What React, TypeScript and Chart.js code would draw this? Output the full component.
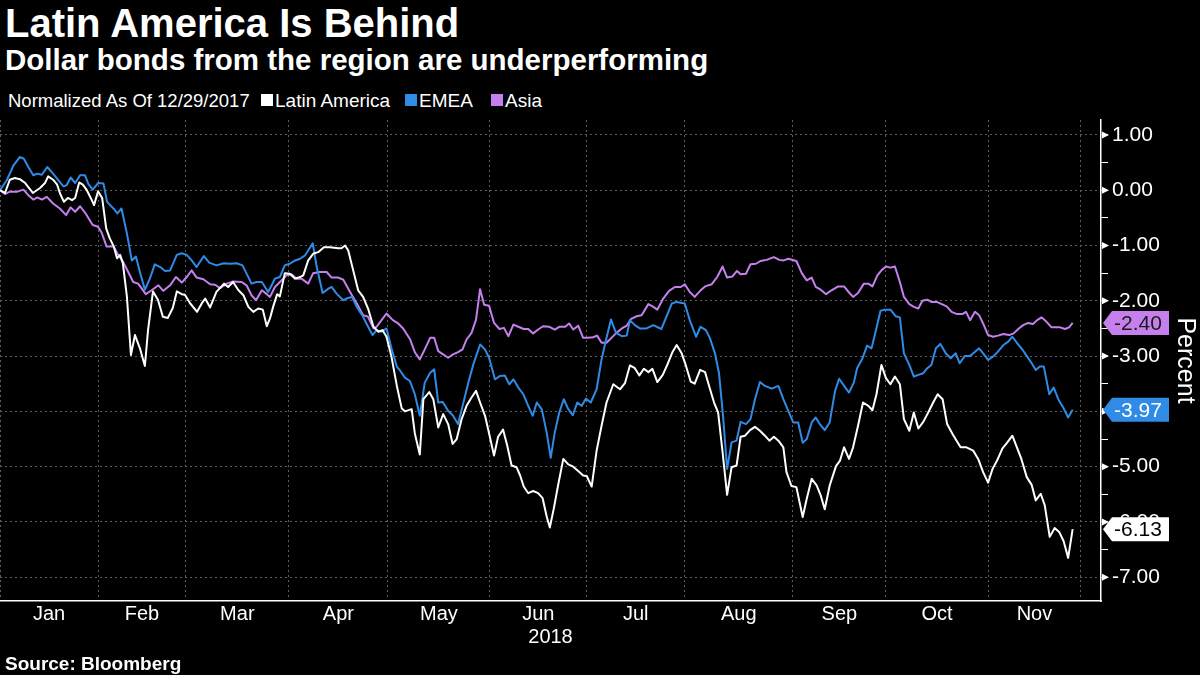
import React, { useEffect, useRef } from "react";
import { Chart, registerables } from "chart.js";

Chart.register(...registerables);

const FONT = '"Liberation Sans", Arial, sans-serif';

// x positions are business-day positions since 12/29/2017
const monthLabels = ["Jan", "Feb", "Mar", "Apr", "May", "Jun", "Jul", "Aug", "Sep", "Oct", "Nov"];
const monthStarts = [0, 21.8, 41.3, 64.2, 86.2, 108.9, 130.4, 152.2, 176.2, 196.9, 219.6, 240.2];
const yearLabel = "2018";
const yMajorTicks = [1, 0, -1, -2, -3, -4, -5, -6, -7];
const seriesNames = ["Latin America", "EMEA", "Asia"];
const seriesColors = ["#ffffff", "#2f8be6", "#c680ee"];
const tagTextColors = ["#000000", "#ffffff", "#1a1a1a"];

const latam: [number, number][] = [
  [0, 0.0], [1.1, -0.05], [2.2, 0.19], [3.3, 0.22], [4.4, 0.2], [5.6, 0.13], [7.3, -0.05], [8.9, 0.04], [10.0, 0.13], [10.7, 0.25],
  [11.8, 0.19], [12.7, 0.1], [13.3, -0.05], [14.2, -0.21], [15.1, -0.14], [16.0, -0.18], [16.7, -0.14], [17.6, 0.14], [18.4, 0.1], [19.3, 0.0],
  [20.4, -0.18], [20.9, -0.27], [21.8, -0.02], [22.7, -0.14], [23.6, -0.69], [24.4, -0.87], [25.3, -1.02], [26.0, -1.23], [26.7, -1.17], [27.3, -1.32],
  [28.2, -1.92], [29.1, -2.98], [30.0, -2.62], [31.1, -2.86], [32.2, -3.18], [32.9, -2.53], [34.0, -1.83], [35.1, -1.98], [36.2, -2.29], [37.3, -2.31],
  [38.4, -2.13], [39.3, -1.83], [40.4, -1.88], [41.1, -1.89], [42.2, -2.04], [43.8, -2.2], [44.9, -2.04], [45.6, -1.96], [46.7, -2.12], [48.1, -1.84],
  [49.8, -1.69], [50.7, -1.75], [51.8, -1.66], [53.0, -1.81], [54.1, -1.9], [55.2, -2.11], [56.3, -2.2], [57.4, -2.14], [58.4, -2.16], [59.3, -2.46],
  [60.0, -2.32], [60.7, -2.11], [61.6, -1.88], [62.2, -1.92], [63.3, -1.5], [64.4, -1.51], [65.6, -1.6], [66.7, -1.57], [67.4, -1.54], [68.5, -1.27],
  [69.6, -1.15], [70.7, -1.12], [72.0, -1.03], [73.3, -1.03], [75.2, -1.05], [75.9, -1.05], [76.7, -1.0], [77.4, -1.09], [78.5, -1.45], [79.6, -1.81],
  [80.7, -1.93], [81.8, -2.14], [83.0, -2.47], [84.1, -2.56], [85.0, -2.53], [85.9, -2.65], [87.0, -3.01], [88.2, -3.54], [89.3, -3.95], [90.0, -4.0],
  [91.5, -3.96], [92.2, -4.4], [93.3, -4.78], [94.1, -3.78], [95.4, -3.65], [96.3, -3.78], [97.4, -4.29], [98.5, -4.05], [99.6, -4.23], [100.6, -4.59],
  [101.5, -4.5], [102.6, -4.14], [103.7, -3.9], [104.8, -3.75], [105.8, -3.63], [106.7, -3.84], [107.8, -4.08], [108.7, -4.4], [109.8, -4.8], [110.7, -4.46],
  [111.8, -4.33], [112.7, -4.61], [113.7, -4.98], [114.8, -5.01], [115.6, -5.16], [116.4, -5.36], [117.4, -5.48], [118.5, -5.44], [119.6, -5.48], [120.6, -5.57],
  [121.5, -5.9], [122.2, -6.1], [123.1, -5.75], [124.1, -5.31], [125.2, -4.86], [126.3, -4.96], [127.4, -5.0], [128.5, -5.08], [129.6, -5.16], [130.4, -5.17],
  [131.5, -5.36], [132.6, -4.71], [133.7, -4.26], [134.8, -3.84], [136.3, -3.51], [137.8, -3.6], [138.9, -3.49], [140.0, -3.17], [141.1, -3.22], [142.1, -3.35],
  [143.1, -3.23], [144.1, -3.29], [145.0, -3.23], [146.1, -3.47], [147.3, -3.34], [148.3, -3.16], [149.5, -2.92], [150.4, -2.8], [151.5, -2.95], [152.4, -3.16],
  [153.5, -3.46], [154.4, -3.5], [155.6, -3.25], [156.7, -3.29], [157.6, -3.54], [158.7, -3.84], [159.6, -4.02], [160.6, -4.74], [161.6, -5.51], [162.6, -5.01],
  [163.7, -4.98], [164.6, -4.46], [165.6, -4.44], [166.7, -4.34], [167.8, -4.28], [168.9, -4.35], [170.0, -4.44], [171.0, -4.53], [172.0, -4.46], [173.0, -4.53],
  [174.1, -4.65], [174.8, -5.1], [175.9, -5.35], [177.0, -5.37], [178.4, -5.91], [179.3, -5.58], [180.4, -5.22], [181.5, -5.34], [182.4, -5.52], [183.3, -5.77],
  [184.4, -5.34], [185.8, -4.99], [186.7, -4.89], [187.6, -4.65], [188.7, -4.86], [189.6, -4.65], [190.7, -4.26], [191.8, -3.84], [193.0, -3.9], [193.9, -3.98],
  [194.8, -3.69], [195.9, -3.16], [196.9, -3.4], [197.9, -3.51], [198.9, -3.37], [200.0, -3.51], [200.9, -4.14], [202.1, -4.35], [203.1, -4.02], [204.1, -4.31],
  [205.2, -4.19], [206.3, -4.02], [207.4, -3.84], [208.4, -3.69], [209.5, -3.78], [210.5, -4.23], [211.7, -4.41], [212.6, -4.53], [213.5, -4.65], [214.8, -4.65],
  [216.3, -4.71], [217.4, -4.86], [218.5, -5.1], [219.6, -5.29], [220.6, -5.04], [221.6, -4.89], [222.8, -4.67], [223.8, -4.57], [225.0, -4.44], [225.9, -4.63],
  [227.0, -4.86], [228.2, -5.19], [229.3, -5.33], [230.2, -5.61], [231.3, -5.49], [232.2, -5.7], [233.3, -6.27], [234.4, -6.11], [235.4, -6.18], [236.4, -6.35],
  [237.4, -6.65], [238.4, -6.13],
];

const emea: [number, number][] = [
  [0, 0.0], [1.5, 0.18], [3.0, 0.45], [4.4, 0.6], [5.3, 0.57], [6.3, 0.42], [7.4, 0.27], [8.3, 0.3], [9.3, 0.28], [10.5, 0.42],
  [11.8, 0.3], [13.0, 0.18], [14.1, 0.07], [14.8, 0.09], [15.7, 0.23], [16.7, 0.13], [17.8, 0.27], [18.9, 0.27], [19.6, 0.12], [20.6, 0.01],
  [21.8, 0.13], [23.0, 0.12], [23.8, -0.21], [25.2, -0.33], [26.1, -0.42], [27.0, -0.33], [28.2, -0.78], [29.3, -1.27], [30.2, -1.2], [31.1, -1.48],
  [32.2, -1.8], [33.3, -1.6], [34.4, -1.34], [35.6, -1.39], [36.7, -1.46], [37.8, -1.45], [39.3, -1.17], [40.4, -1.14], [41.5, -1.17], [42.6, -1.27],
  [43.7, -1.39], [45.3, -1.19], [46.5, -1.31], [48.1, -1.36], [49.8, -1.32], [51.1, -1.33], [52.6, -1.32], [53.9, -1.36], [55.9, -1.69], [57.0, -1.66],
  [58.2, -1.66], [59.6, -1.84], [61.1, -1.6], [62.2, -1.57], [63.3, -1.36], [64.4, -1.33], [65.6, -1.27], [66.7, -1.24], [67.8, -1.18], [69.5, -0.96],
  [70.4, -1.39], [71.7, -1.86], [73.0, -1.78], [73.7, -1.75], [74.8, -1.87], [76.3, -1.99], [77.0, -1.96], [78.2, -1.93], [79.3, -2.11], [80.7, -2.29],
  [81.5, -2.42], [82.8, -2.62], [83.7, -2.53], [84.8, -2.56], [85.9, -2.5], [87.0, -2.86], [88.2, -3.19], [88.9, -3.26], [90.0, -3.39], [91.1, -3.45],
  [92.2, -3.69], [93.3, -4.08], [94.4, -3.48], [95.6, -3.3], [96.5, -3.24], [97.4, -3.84], [98.4, -3.83], [99.6, -3.99], [100.7, -4.08], [101.8, -4.23],
  [103.0, -3.84], [104.1, -3.48], [105.2, -3.15], [106.7, -2.79], [107.8, -2.88], [108.7, -3.03], [110.0, -3.42], [111.1, -3.36], [112.2, -3.35], [113.2, -3.51],
  [114.1, -3.42], [115.2, -3.57], [116.3, -3.69], [117.4, -3.9], [118.4, -4.08], [119.3, -3.84], [120.4, -3.96], [121.5, -4.38], [122.4, -4.84], [123.3, -4.38],
  [124.3, -4.02], [125.3, -3.78], [126.3, -3.96], [127.3, -4.07], [128.3, -3.84], [129.3, -3.9], [130.2, -3.77], [131.3, -3.84], [132.6, -3.6], [133.7, -3.06],
  [134.8, -2.67], [135.8, -2.34], [136.9, -2.58], [138.2, -2.64], [139.3, -2.63], [140.0, -2.35], [141.1, -2.44], [142.2, -2.5], [143.7, -2.5], [145.2, -2.44],
  [147.0, -2.51], [148.1, -2.29], [149.3, -2.05], [150.4, -2.02], [152.2, -2.05], [153.3, -2.35], [154.7, -2.65], [155.7, -2.47], [156.9, -2.53], [157.8, -2.68],
  [158.9, -2.95], [159.8, -3.31], [160.7, -4.08], [161.6, -5.04], [162.6, -4.56], [163.7, -4.53], [164.6, -4.19], [165.8, -4.23], [166.8, -4.14], [167.8, -3.78],
  [168.9, -3.47], [170.0, -3.54], [171.5, -3.59], [173.0, -3.54], [174.1, -3.78], [175.2, -3.99], [176.3, -4.2], [177.4, -4.2], [178.4, -4.57], [179.3, -4.5],
  [180.4, -4.2], [181.3, -4.11], [182.2, -4.23], [183.3, -4.34], [184.4, -4.2], [185.6, -3.63], [186.5, -3.41], [187.6, -3.54], [188.7, -3.66], [189.8, -3.47],
  [190.5, -3.22], [191.7, -3.04], [192.7, -2.81], [193.7, -2.86], [194.7, -2.53], [195.7, -2.18], [196.7, -2.16], [197.9, -2.16], [199.1, -2.28], [200.0, -2.3],
  [200.9, -2.95], [202.1, -3.16], [203.1, -3.37], [204.1, -3.34], [205.2, -3.31], [206.1, -3.22], [207.0, -3.16], [208.0, -2.86], [209.0, -2.78], [210.2, -2.95],
  [211.3, -3.04], [212.4, -2.95], [213.3, -3.13], [214.4, -3.0], [215.6, -3.0], [216.7, -2.92], [217.6, -2.86], [218.5, -2.95], [219.6, -3.07], [220.7, -3.01],
  [221.8, -2.92], [223.0, -2.8], [224.1, -2.74], [225.0, -2.65], [226.1, -2.77], [227.3, -2.89], [228.3, -3.01], [229.3, -3.13], [230.2, -3.25], [231.1, -3.19],
  [232.0, -3.19], [233.2, -3.69], [234.2, -3.57], [235.2, -3.78], [236.3, -3.93], [237.4, -4.11], [238.4, -3.97],
];

const asia: [number, number][] = [
  [0, 0.0], [1.1, -0.07], [2.1, -0.03], [3.7, -0.03], [5.2, 0.01], [6.3, -0.09], [7.4, -0.17], [8.3, -0.13], [9.3, -0.17], [10.4, -0.12],
  [11.8, -0.24], [13.3, -0.33], [14.7, -0.45], [15.7, -0.31], [16.7, -0.39], [17.8, -0.29], [19.1, -0.43], [20.6, -0.63], [21.8, -0.66], [22.6, -0.77],
  [23.7, -1.02], [25.2, -1.02], [26.3, -1.17], [27.4, -1.3], [28.5, -1.48], [29.6, -1.66], [30.7, -1.69], [32.4, -1.88], [33.7, -1.81], [35.2, -1.72],
  [36.3, -1.82], [37.8, -1.72], [39.1, -1.57], [40.4, -1.67], [41.5, -1.57], [42.6, -1.45], [43.7, -1.58], [45.2, -1.61], [46.7, -1.7], [47.8, -1.71],
  [48.9, -1.77], [50.4, -1.69], [51.8, -1.65], [53.7, -1.66], [54.8, -1.72], [55.9, -1.9], [56.9, -1.99], [58.2, -1.81], [59.3, -1.88], [60.0, -1.93],
  [61.1, -1.75], [62.6, -1.63], [63.7, -1.54], [64.8, -1.52], [65.9, -1.6], [67.0, -1.6], [68.5, -1.69], [69.6, -1.5], [71.0, -1.48], [72.6, -1.48],
  [73.7, -1.58], [75.2, -1.58], [76.3, -1.62], [77.8, -1.84], [79.3, -2.05], [80.7, -2.26], [81.8, -2.29], [83.0, -2.5], [83.7, -2.47], [84.8, -2.35],
  [85.9, -2.23], [87.3, -2.35], [88.5, -2.41], [89.6, -2.5], [91.1, -2.69], [92.2, -2.93], [93.3, -3.06], [94.4, -2.88], [95.6, -2.67], [96.5, -2.67],
  [97.4, -2.91], [98.5, -2.97], [99.6, -3.03], [100.7, -2.97], [101.8, -2.93], [102.8, -2.88], [103.7, -2.7], [104.8, -2.58], [105.8, -2.34], [106.7, -1.79],
  [107.6, -2.07], [108.7, -2.09], [109.8, -2.4], [111.0, -2.51], [112.0, -2.49], [113.0, -2.64], [114.1, -2.43], [115.2, -2.47], [116.4, -2.51], [117.4, -2.51],
  [118.5, -2.59], [119.6, -2.52], [120.7, -2.46], [122.1, -2.47], [123.3, -2.52], [124.3, -2.47], [125.6, -2.47], [126.5, -2.41], [127.4, -2.52], [128.5, -2.45],
  [129.6, -2.67], [130.7, -2.67], [131.8, -2.66], [132.7, -2.63], [133.7, -2.76], [134.8, -2.76], [135.9, -2.67], [137.0, -2.58], [138.2, -2.5], [139.3, -2.45],
  [140.2, -2.33], [141.5, -2.28], [142.6, -2.26], [144.1, -2.06], [145.2, -2.11], [146.1, -2.16], [147.4, -1.96], [148.7, -1.82], [150.0, -1.75], [151.3, -1.75],
  [152.2, -1.7], [153.3, -1.84], [154.4, -1.93], [155.6, -1.82], [156.7, -1.74], [158.2, -1.7], [159.4, -1.57], [160.6, -1.38], [161.6, -1.58], [162.8, -1.56],
  [163.8, -1.46], [164.6, -1.52], [165.8, -1.51], [166.8, -1.34], [168.0, -1.33], [169.0, -1.28], [170.4, -1.26], [172.0, -1.21], [173.2, -1.26], [174.2, -1.27],
  [175.2, -1.24], [177.0, -1.28], [178.2, -1.5], [179.3, -1.63], [180.4, -1.58], [181.3, -1.75], [182.4, -1.8], [183.6, -1.88], [184.8, -1.81], [186.3, -1.74],
  [187.6, -1.74], [188.7, -1.85], [189.6, -1.93], [190.7, -1.86], [192.0, -1.69], [193.0, -1.69], [193.9, -1.74], [195.0, -1.54], [195.9, -1.45], [196.9, -1.38],
  [197.9, -1.4], [198.9, -1.38], [200.0, -1.66], [200.9, -1.93], [202.1, -2.06], [203.1, -2.11], [204.1, -2.14], [205.0, -2.0], [206.1, -1.98], [207.0, -2.02],
  [208.2, -2.02], [209.3, -2.06], [210.4, -2.1], [211.5, -2.2], [212.7, -2.24], [213.9, -2.24], [214.7, -2.2], [215.6, -2.35], [216.7, -2.2], [217.6, -2.26],
  [218.5, -2.41], [219.6, -2.62], [220.7, -2.65], [221.8, -2.63], [223.0, -2.6], [224.3, -2.62], [225.3, -2.59], [226.3, -2.51], [227.4, -2.44], [228.5, -2.4],
  [229.6, -2.42], [230.5, -2.35], [231.5, -2.3], [232.6, -2.38], [233.7, -2.48], [234.7, -2.48], [235.6, -2.48], [236.7, -2.51], [237.6, -2.48], [238.4, -2.4],
];

const seriesData = [latam, emea, asia];

const X_MIN = 0;
const X_MAX = 244.7;
const Y_MIN = -7.43;
const Y_MAX = 1.27;

const endTagPlugin = {
  id: "endTags",
  afterDraw(chart: any) {
    const ctx = chart.ctx;
    const area = chart.chartArea;
    const yScale = chart.scales.y;
    ctx.save();
    ctx.fillStyle = "#ffffff";
    yMajorTicks.forEach((v) => {
      const py = yScale.getPixelForValue(v);
      ctx.beginPath();
      ctx.moveTo(area.right + 1, py - 3.5);
      ctx.lineTo(area.right + 8, py);
      ctx.lineTo(area.right + 1, py + 3.5);
      ctx.closePath();
      ctx.fill();
    });
    [0, 1, 2].forEach((i) => {
      const ds = chart.data.datasets[i];
      const last = ds.data[ds.data.length - 1];
      const y = yScale.getPixelForValue(last.y);
      const x0 = area.right + 2;
      const h = 24;
      const w = 66;
      const tip = 9;
      ctx.beginPath();
      ctx.moveTo(x0, y);
      ctx.lineTo(x0 + tip, y - h / 2);
      ctx.lineTo(x0 + w, y - h / 2);
      ctx.lineTo(x0 + w, y + h / 2);
      ctx.lineTo(x0 + tip, y + h / 2);
      ctx.closePath();
      ctx.fillStyle = seriesColors[i];
      ctx.fill();
      ctx.fillStyle = tagTextColors[i];
      ctx.font = `21px ${FONT}`;
      ctx.textAlign = "left";
      ctx.textBaseline = "middle";
      ctx.fillText(last.y.toFixed(2), x0 + tip + 2, y + 1);
    });
    ctx.restore();
  },
};

export default function App() {
  const canvasRef = useRef<HTMLCanvasElement | null>(null);

  useEffect(() => {
    document.body.style.margin = "0";
    document.body.style.background = "#000";
    const canvas = canvasRef.current;
    if (!canvas) return;

    const datasets = seriesData.map((s, i) => ({
      label: seriesNames[i],
      data: s.map(([x, y]) => ({ x, y })),
      borderColor: seriesColors[i],
      backgroundColor: seriesColors[i],
      borderWidth: 2,
      pointRadius: 0,
      tension: 0,
      fill: false,
      borderJoinStyle: "round" as const,
      xAxisID: "x",
      yAxisID: "y",
    }));

    const yAllTicks: number[] = [];
    yMajorTicks.forEach((v) => {
      yAllTicks.push(v);
      if (v > Y_MIN + 0.5) yAllTicks.push(v - 0.5);
    });

    const monthMids = monthLabels.map((_, i) => (monthStarts[i] + monthStarts[i + 1]) / 2);

    const chart = new Chart(canvas, {
      type: "line",
      data: { datasets },
      plugins: [endTagPlugin],
      options: {
        animation: false,
        responsive: false,
        devicePixelRatio: 1,
        layout: { padding: { top: 10, left: 0, right: 0, bottom: 0 } },
        plugins: { legend: { display: false }, tooltip: { enabled: false } },
        scales: {
          x: {
            type: "linear",
            position: "bottom",
            weight: 0,
            min: X_MIN,
            max: X_MAX,
            afterBuildTicks: (s: any) => {
              s.ticks = monthStarts.map((v) => ({ value: v }));
            },
            afterFit: (s: any) => {
              s.height = 0;
              s.paddingLeft = 0;
              s.paddingRight = 0;
            },
            ticks: { display: false },
            grid: { color: "#5e5e5e", lineWidth: 1, drawTicks: false },
            border: { display: true, color: "#ffffff", width: 1.5, dash: [2, 3] },
          },
          xm: {
            type: "linear",
            position: "bottom",
            weight: 1,
            min: X_MIN,
            max: X_MAX,
            afterBuildTicks: (s: any) => {
              s.ticks = monthMids.map((v) => ({ value: v }));
            },
            afterFit: (s: any) => {
              s.height = 54;
              s.paddingLeft = 0;
              s.paddingRight = 0;
            },
            ticks: {
              autoSkip: false,
              maxRotation: 0,
              padding: 1,
              color: "#ffffff",
              font: { family: FONT, size: 20, lineHeight: 1.2 },
              callback: (_v: any, i: number) => monthLabels[i],
            },
            grid: { display: false, drawTicks: false },
            border: { display: false },
            title: {
              display: true,
              text: yearLabel,
              color: "#ffffff",
              font: { family: FONT, size: 20, lineHeight: 1.2 },
              padding: { top: 0, bottom: 6 },
            },
          },
          y: {
            type: "linear",
            position: "right",
            min: Y_MIN,
            max: Y_MAX,
            afterBuildTicks: (s: any) => {
              s.ticks = yAllTicks.map((v) => ({ value: v }));
            },
            afterFit: (s: any) => {
              s.width = 99;
              s.paddingTop = 0;
              s.paddingBottom = 0;
            },
            ticks: {
              autoSkip: false,
              padding: 4,
              color: "#ffffff",
              font: { family: FONT, size: 21 },
              callback: (v: any) => (Number.isInteger(v) ? Number(v).toFixed(2) : ""),
            },
            grid: {
              color: (c: any) => (c.tick && Number.isInteger(c.tick.value) ? "#5e5e5e" : "rgba(0,0,0,0)"),
              lineWidth: 1,
              tickColor: "#ffffff",
              tickLength: 7,
              tickWidth: 1,
            },
            border: { display: true, color: "#ffffff", width: 1.5, dash: [2, 3] },
            title: {
              display: true,
              text: "Percent",
              color: "#ffffff",
              font: { family: FONT, size: 25, lineHeight: 1.2 },
              padding: 0,
            },
          },
        },
      } as any,
    });

    return () => chart.destroy();
  }, []);

  const text: React.CSSProperties = {
    position: "absolute",
    whiteSpace: "nowrap",
    color: "#ffffff",
    fontFamily: FONT,
  };
  const sq = (left: number, color: string): React.CSSProperties => ({
    position: "absolute",
    left,
    top: 94,
    width: 12,
    height: 12,
    background: color,
  });

  return (
    <div
      style={{
        position: "fixed",
        left: 0,
        top: 0,
        width: 1200,
        height: 675,
        background: "#000000",
        overflow: "hidden",
      }}
    >
      <div style={{ ...text, left: 5, top: 3, fontSize: 40, lineHeight: "40px", fontWeight: 700 }}>
        Latin America Is Behind
      </div>
      <div style={{ ...text, left: 5, top: 45, fontSize: 29.5, lineHeight: "29.5px", fontWeight: 700 }}>
        Dollar bonds from the region are underperforming
      </div>
      <div style={{ ...text, left: 8, top: 91, fontSize: 18.5, lineHeight: "19px" }}>Normalized As Of 12/29/2017</div>
      <div style={sq(261, seriesColors[0])} />
      <div style={{ ...text, left: 275, top: 91, fontSize: 19, lineHeight: "19px" }}>{seriesNames[0]}</div>
      <div style={sq(405, seriesColors[1])} />
      <div style={{ ...text, left: 419, top: 91, fontSize: 19, lineHeight: "19px" }}>{seriesNames[1]}</div>
      <div style={sq(491, seriesColors[2])} />
      <div style={{ ...text, left: 505, top: 91, fontSize: 19, lineHeight: "19px" }}>{seriesNames[2]}</div>
      <canvas
        ref={canvasRef}
        width={1200}
        height={545}
        style={{ position: "absolute", left: 0, top: 110, width: 1200, height: 545 }}
      />
      <div style={{ ...text, left: 5, top: 654, fontSize: 19, lineHeight: "19px", fontWeight: 700 }}>
        Source: Bloomberg
      </div>
    </div>
  );
}
